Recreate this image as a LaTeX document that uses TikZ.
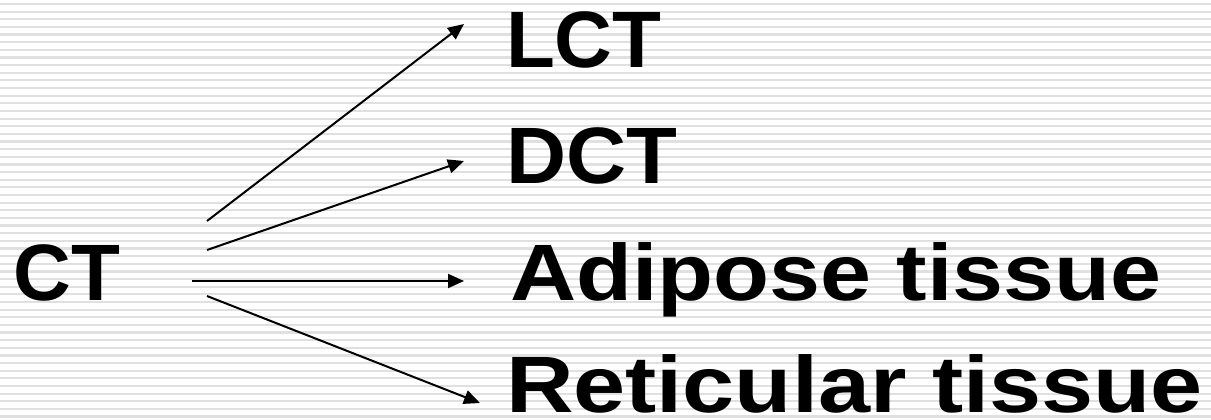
\documentclass[tikz,border=0pt]{standalone}
\usepackage{fontspec}
\setmainfont{Liberation Sans}
\usetikzlibrary{arrows.meta}
\definecolor{stripegray}{RGB}{224,224,224}
\tikzset{
  stripe/.style={draw=stripegray, line width=2.2pt},
  lbl/.style={anchor=base west, inner sep=0pt, outer sep=0pt, font=\fontsize{80}{80}\selectfont\bfseries},
  arr/.style={draw=black, line width=2pt, -{Triangle[length=16pt,width=14pt]}}
}
\begin{document}
\begin{tikzpicture}[x=1pt,y=-1pt]
\useasboundingbox (0,0) rectangle (1211,420);
\fill[white] (0,0) rectangle (1211,420);
\foreach \k in {0,...,54} {
  \draw[stripe] (0,{4+7.64*\k}) -- (1211,{4+7.64*\k});
}
\node[lbl] (ct)  at (13.5,300) {CT};
\node[lbl] (lct) at (506,68) {LCT};
\node[lbl] (dct) at (506,183) {\scalebox{1.04}[1]{DCT}};
\node[lbl] (adi) at (510,300) {\scalebox{1.145}[1]{Adipose tissue}};
\node[lbl] (ret) at (506,412) {\scalebox{1.17}[1]{Reticular tissue}};
\coordinate (s1) at (207,221);
\coordinate (s2) at (207,250);
\coordinate (s3) at (192,281);
\coordinate (s4) at (207,296);
\coordinate (e1) at (464,24);
\coordinate (e2) at (464,161);
\coordinate (e3) at (464,281);
\coordinate (e4) at (480,403);
\draw[arr] (s1) -- (e1);
\draw[arr] (s2) -- (e2);
\draw[arr] (s3) -- (e3);
\draw[arr] (s4) -- (e4);
\end{tikzpicture}
\end{document}
